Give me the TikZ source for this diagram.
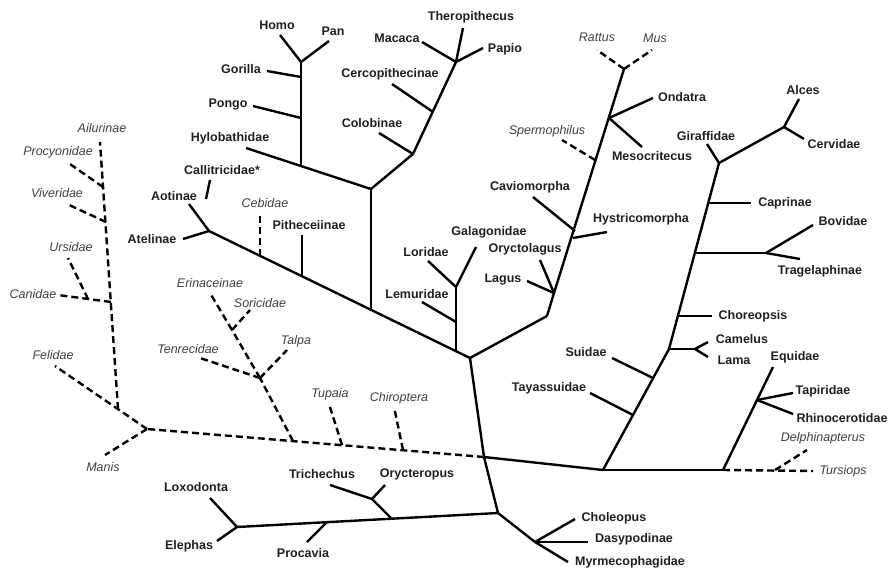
\documentclass[tikz,border=0pt]{standalone}
\usepackage{fontspec}
\setmainfont{Liberation Sans}

\begin{document}
\begin{tikzpicture}[x=1pt, y=-1pt,
  branch/.style={line width=2.4pt, line join=round},
  gap/.style={branch, dash pattern=on 7pt off 4pt},
  taxon/.style={font=\fontsize{12.5}{14}\selectfont\bfseries, text=black!88, inner sep=0pt},
  missing/.style={font=\fontsize{12.5}{14}\selectfont\itshape, text=black!75, inner sep=0pt}]

  \useasboundingbox (0,0) rectangle (890,569);

  % Primates

  \coordinate (hp) at (301,62);
  \coordinate (gor-j) at (301,77);
  \coordinate (pon-j) at (301,118);
  \coordinate (hom) at (301,165);
  \coordinate (cat) at (371,189);
  \coordinate (col-j) at (413,154);
  \coordinate (cer-j) at (433,112);
  \coordinate (pap) at (456,62);
  \coordinate (atl) at (209,231);
  \coordinate (ceb-j) at (260,256);
  \coordinate (pit-j) at (302,276);
  \coordinate (cat-j) at (371,310);
  \coordinate (str-j) at (456,351);
  \coordinate (lor) at (456,287);
  \coordinate (lem-j) at (456,322);
  \coordinate (pri) at (470,358);

  \coordinate (homo-e) at (280,35);
  \coordinate (pan-e) at (329,41);
  \coordinate (gor-e) at (267,71);
  \coordinate (pon-e) at (253,106);
  \coordinate (hyl-e) at (246,148);
  \coordinate (col-e) at (379,133);
  \coordinate (cer-e) at (392,84);
  \coordinate (mac-e) at (422,42);
  \coordinate (the-e) at (463,28);
  \coordinate (pap-e) at (483,48);
  \coordinate (cal-a) at (210,180);
  \coordinate (cal-e) at (206,199);
  \coordinate (aot-e) at (189,204);
  \coordinate (ate-e) at (183,239);
  \coordinate (ceb-e) at (260,213);
  \coordinate (pit-e) at (302,235);
  \coordinate (lor-e) at (428,261);
  \coordinate (gal-e) at (476,247);
  \coordinate (lem-e) at (422,302);

  \node [taxon] (homo) at (277,25) {Homo};
  \node [taxon] (pan) at (333,31) {Pan};
  \node [taxon] (gorilla) at (241,69) {Gorilla};
  \node [taxon] (pongo) at (228,105) {Pongo};
  \node [taxon] (hylobathidae) at (230,138) {Hylobathidae};
  \node [taxon] (colobinae) at (372,123) {Colobinae};
  \node [taxon] (cercopithecinae) at (390,74) {Cercopithecinae};
  \node [taxon] (macaca) at (397,38) {Macaca};
  \node [taxon] (theropithecus) at (471,17) {Theropithecus};
  \node [taxon] (papio) at (505,49) {Papio};
  \node [taxon] (callitricidae) at (222,170) {Callitricidae*};
  \node [taxon] (aotinae) at (174,196) {Aotinae};
  \node [taxon] (atelinae) at (152,239) {Atelinae};
  \node [missing] (cebidae) at (265,203) {Cebidae};
  \node [taxon] (pitheceiinae) at (309,225) {Pitheceiinae};
  \node [taxon] (loridae) at (426,252) {Loridae};
  \node [taxon] (galagonidae) at (489,232) {Galagonidae};
  \node [taxon] (lemuridae) at (417,294) {Lemuridae};

  \foreach \a/\b in {hp/homo-e, hp/pan-e, hp/hom, gor-j/gor-e, pon-j/pon-e,
      hyl-e/cat, cat/col-j, col-j/col-e, col-j/pap, cer-j/cer-e, pap/mac-e,
      pap/the-e, pap/pap-e, cat/cat-j, atl/aot-e, atl/ate-e, atl/pri,
      cal-a/cal-e, pit-j/pit-e, lor/lor-e, lor/gal-e, lor/str-j, lem-j/lem-e}
    \draw [branch] (\a) -- (\b);
  \draw [gap] (ceb-j) -- (ceb-e);

  % Glires

  \coordinate (gli-b) at (547,316);
  \coordinate (gli) at (554,293);
  \coordinate (hys-j) at (573,238);
  \coordinate (cav-j) at (575,231);
  \coordinate (spe-j) at (595,160);
  \coordinate (ond) at (609,118);
  \coordinate (mur) at (624,69);

  \coordinate (ory-e) at (540,260);
  \coordinate (lag-e) at (527,281);
  \coordinate (cav-e) at (533,197);
  \coordinate (hys-e) at (607,232);
  \coordinate (spe-e) at (562,140);
  \coordinate (ond-e) at (653,98);
  \coordinate (mes-e) at (642,147);
  \coordinate (rat-e) at (597,50);
  \coordinate (mus-e) at (652,50);

  \node [taxon] (oryctolagus) at (525,249) {Oryctolagus};
  \node [taxon] (lagus) at (503,280) {Lagus};
  \node [taxon] (caviomorpha) at (530,187) {Caviomorpha};
  \node [taxon] (hystricomorpha) at (641,219) {Hystricomorpha};
  \node [missing] (spermophilus) at (547,131) {Spermophilus};
  \node [taxon] (ondatra) at (682,97) {Ondatra};
  \node [taxon] (mesocritecus) at (652,156) {Mesocritecus};
  \node [missing] (rattus) at (597,37) {Rattus};
  \node [missing] (mus) at (655,38) {Mus};

  \foreach \a/\b in {pri/gli-b, gli-b/gli, gli/ory-e, gli/lag-e, gli/mur,
      hys-j/hys-e, cav-j/cav-e, ond/ond-e, ond/mes-e}
    \draw [branch] (\a) -- (\b);
  \foreach \a/\b in {spe-j/spe-e, mur/rat-e, mur/mus-e}
    \draw [gap] (\a) -- (\b);

  % Backbone, Cetartiodactyla and Perissodactyla

  \coordinate (bb) at (484,457);
  \coordinate (bot) at (498,513);
  \coordinate (lau) at (603,470);
  \coordinate (per) at (723,470);
  \coordinate (cet) at (775,470);
  \coordinate (tay-j) at (633,415);
  \coordinate (sui-j) at (653,378);
  \coordinate (cam) at (669,349);
  \coordinate (cam2) at (695,349);
  \coordinate (cho-j) at (678,316);
  \coordinate (bov-j) at (695,253);
  \coordinate (bov) at (766,253);
  \coordinate (cap-j) at (708,203);
  \coordinate (rum) at (719,163);
  \coordinate (cvd) at (784,127);
  \coordinate (tap) at (757,400);

  \coordinate (tay-e) at (590,393);
  \coordinate (sui-e) at (612,358);
  \coordinate (cml-e) at (708,342);
  \coordinate (lam-e) at (708,357);
  \coordinate (cho-e) at (712,316);
  \coordinate (bov-e) at (813,225);
  \coordinate (tra-e) at (800,259);
  \coordinate (cap-e) at (751,203);
  \coordinate (gir-e) at (707,144);
  \coordinate (alc-e) at (799,99);
  \coordinate (cvd-e) at (804,139);
  \coordinate (equ-e) at (773,367);
  \coordinate (tap-e) at (793,393);
  \coordinate (rhi-e) at (793,414);
  \coordinate (del-e) at (807,450);
  \coordinate (tur-e) at (813,471);

  \node [taxon] (tayassuidae) at (549,388) {Tayassuidae};
  \node [taxon] (suidae) at (586,352) {Suidae};
  \node [taxon] (camelus) at (742,339) {Camelus};
  \node [taxon] (lama) at (734,360) {Lama};
  \node [taxon] (choreopsis) at (753,316) {Choreopsis};
  \node [taxon] (bovidae) at (843,221) {Bovidae};
  \node [taxon] (tragelaphinae) at (820,271) {Tragelaphinae};
  \node [taxon] (caprinae) at (785,203) {Caprinae};
  \node [taxon] (giraffidae) at (706,136) {Giraffidae};
  \node [taxon] (alces) at (803,90) {Alces};
  \node [taxon] (cervidae) at (834,144) {Cervidae};
  \node [taxon] (equidae) at (795,357) {Equidae};
  \node [taxon] (tapiridae) at (823,391) {Tapiridae};
  \node [taxon] (rhinocerotidae) at (842,418) {Rhinocerotidae};
  \node [missing] (delphinapterus) at (823,438) {Delphinapterus};
  \node [missing] (tursiops) at (843,471) {Tursiops};

  \foreach \a/\b in {pri/bb, bb/bot, bb/lau, lau/per, lau/cam, cam/rum,
      tay-j/tay-e, sui-j/sui-e, cam/cam2, cam2/cml-e, cam2/lam-e,
      cho-j/cho-e, bov-j/bov, bov/bov-e, bov/tra-e, cap-j/cap-e,
      rum/gir-e, rum/cvd, cvd/alc-e, cvd/cvd-e, per/equ-e, tap/tap-e,
      tap/rhi-e}
    \draw [branch] (\a) -- (\b);
  \foreach \a/\b in {per/tur-e, cet/del-e}
    \draw [gap] (\a) -- (\b);

  % Missing laurasiatherians: bats, insectivores, carnivores

  \coordinate (chi-j) at (403,450);
  \coordinate (tup-j) at (342,445);
  \coordinate (eul-j) at (293,441);
  \coordinate (eul) at (260,378);
  \coordinate (eri) at (232,330);
  \coordinate (man) at (147,429);
  \coordinate (fel-j) at (118,409);
  \coordinate (can-j) at (111,302);
  \coordinate (urs-j) at (88,299);
  \coordinate (viv-j) at (106,222);
  \coordinate (pcy-j) at (103,187);

  \coordinate (chi-e) at (394,407);
  \coordinate (tup-e) at (329,404);
  \coordinate (tal-e) at (287,350);
  \coordinate (ten-e) at (200,358);
  \coordinate (sor-e) at (250,310);
  \coordinate (eri-e) at (210,293);
  \coordinate (man-e) at (105,455);
  \coordinate (fel-e) at (55,366);
  \coordinate (can-e) at (58,295);
  \coordinate (urs-e) at (68,258);
  \coordinate (viv-e) at (67,204);
  \coordinate (pcy-e) at (67,162);
  \coordinate (ail-e) at (100,142);

  \node [missing] (chiroptera) at (399,398) {Chiroptera};
  \node [missing] (tupaia) at (330,394) {Tupaia};
  \node [missing] (talpa) at (296,341) {Talpa};
  \node [missing] (tenrecidae) at (188,349) {Tenrecidae};
  \node [missing] (soricidae) at (260,303) {Soricidae};
  \node [missing] (erinaceinae) at (210,283) {Erinaceinae};
  \node [missing] (manis) at (103,467) {Manis};
  \node [missing] (felidae) at (53,355) {Felidae};
  \node [missing] (canidae) at (33,294) {Canidae};
  \node [missing] (ursidae) at (71,247) {Ursidae};
  \node [missing] (viveridae) at (57,193) {Viveridae};
  \node [missing] (procyonidae) at (58,152) {Procyonidae};
  \node [missing] (ailurinae) at (102,128) {Ailurinae};

  \foreach \a/\b in {bb/man, chi-j/chi-e, tup-j/tup-e, eul-j/eul, eul/tal-e,
      eul/ten-e, eul/eri, eri/sor-e, eri/eri-e, man/man-e, man/fel-e,
      fel-j/ail-e, can-j/can-e, urs-j/urs-e, viv-j/viv-e, pcy-j/pcy-e}
    \draw [gap] (\a) -- (\b);

  % Afrotheria and Xenarthra

  \coordinate (afr) at (237,527);
  \coordinate (pro-j) at (327,522);
  \coordinate (tub-j) at (392,519);
  \coordinate (tub) at (372,499);
  \coordinate (xen) at (535,542);

  \coordinate (lox-e) at (210,498);
  \coordinate (ele-e) at (217,541);
  \coordinate (pro-e) at (307,542);
  \coordinate (tri-e) at (330,485);
  \coordinate (oryc-e) at (385,485);
  \coordinate (chol-e) at (575,519);
  \coordinate (das-e) at (588,542);
  \coordinate (myr-e) at (568,562);

  \node [taxon] (loxodonta) at (196,487) {Loxodonta};
  \node [taxon] (elephas) at (189,546) {Elephas};
  \node [taxon] (procavia) at (303,553) {Procavia};
  \node [taxon] (trichechus) at (322,474) {Trichechus};
  \node [taxon] (orycteropus) at (417,474) {Orycteropus};
  \node [taxon] (choleopus) at (614,518) {Choleopus};
  \node [taxon] (dasypodinae) at (634,539) {Dasypodinae};
  \node [taxon] (myrmecophagidae) at (630,562) {Myrmecophagidae};

  \foreach \a/\b in {bot/afr, afr/lox-e, afr/ele-e, pro-j/pro-e, tub-j/tub,
      tub/tri-e, tub/oryc-e, bot/xen, xen/chol-e, xen/das-e, xen/myr-e}
    \draw [branch] (\a) -- (\b);
\end{tikzpicture}
\end{document}
